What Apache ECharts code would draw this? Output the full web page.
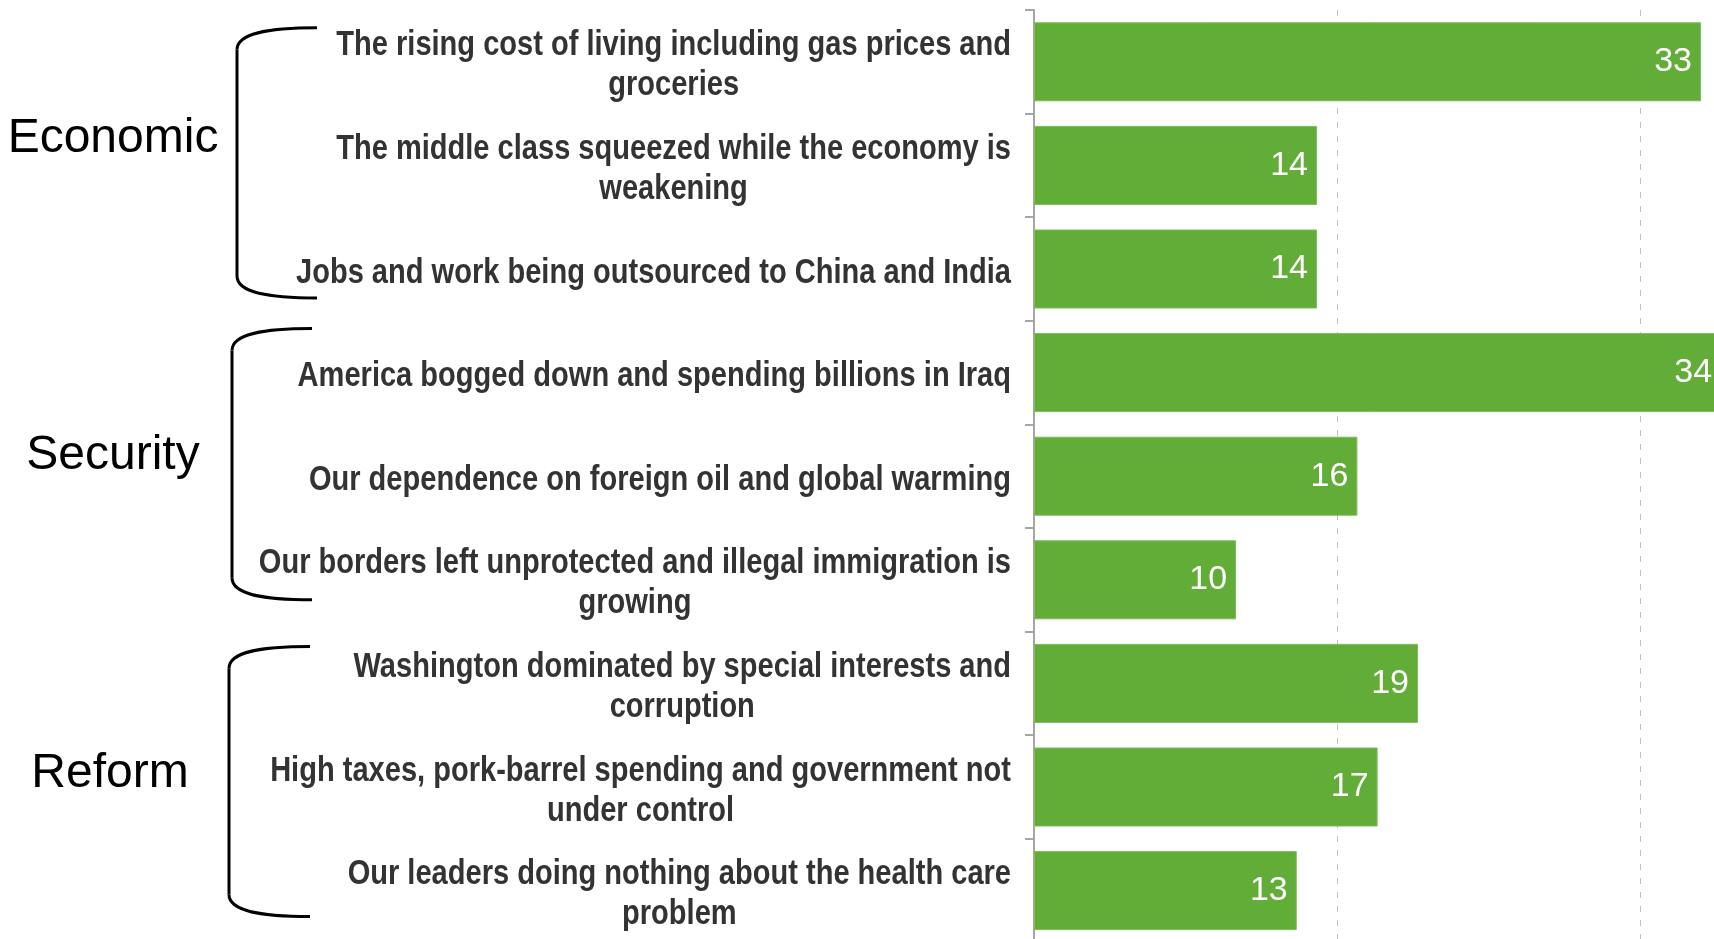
<!DOCTYPE html>
<html>
<head>
<meta charset="utf-8">
<script src="https://cdn.jsdelivr.net/npm/echarts@6/dist/echarts.min.js"></script>
<style>
html,body{margin:0;padding:0;background:#ffffff;}
#chart{width:1714px;height:939px;}
</style>
</head>
<body>
<div id="chart"></div>
<script>
// ---------- data ----------
const categories = [
  'The rising cost of living including gas prices and groceries',
  'The middle class squeezed while the economy is weakening',
  'Jobs and work being outsourced to China and India',
  'America bogged down and spending billions in Iraq',
  'Our dependence on foreign oil and global warming',
  'Our borders left unprotected and illegal immigration is growing',
  'Washington dominated by special interests and corruption',
  'High taxes, pork-barrel spending and government not under control',
  'Our leaders doing nothing about the health care problem'
];
const values = [33, 14, 14, 34, 16, 10, 19, 17, 13];
const groupNames = ['Economic', 'Security', 'Reform'];
const groupFirst = [0, 3, 6];
const groupLast = [2, 5, 8];
const xMin = 0, xMax = 45, xStep = 15;

// ---------- styling / layout ----------
const SANS = '"Liberation Sans", Arial, sans-serif';
const LABEL_SIZE = 35;
const LABEL_SX = 0.83;          // horizontal squeeze to mimic a narrow face
const LABEL_WRAP = 762;
const LABEL_RIGHT = 1011;
const LABEL_LINE_H = 40;
const LABEL_DY = 4;
const measureCtx = document.createElement('canvas').getContext('2d');
measureCtx.font = 'bold ' + LABEL_SIZE + 'px ' + SANS;
function wrapText(t, maxW) {
  const words = t.split(' ');
  const lines = [];
  let cur = '';
  for (const w of words) {
    const test = cur ? cur + ' ' + w : w;
    if (cur && measureCtx.measureText(test).width > maxW) { lines.push(cur); cur = w; }
    else cur = test;
  }
  lines.push(cur);
  return lines;
}
const groupLayout = [
  { labelX: 113, labelDy: -27, top: -34, bottom: 29, vx: 237, ex: 317 },
  { labelX: 113, labelDy: -20, top: -44, bottom: 20, vx: 232, ex: 312 },
  { labelX: 110, labelDy: -13, top: -37, bottom: 26, vx: 229, ex: 310 }
];

const chart = echarts.init(document.getElementById('chart'), null, { renderer: 'canvas' });
chart.setOption({
  animation: false,
  backgroundColor: '#ffffff',
  grid: { left: 1034, top: 10, right: -229.5, bottom: -3.4, containLabel: false, outerBoundsMode: 'none' },
  xAxis: {
    type: 'value', min: xMin, max: xMax, interval: xStep,
    axisLine: { show: false }, axisTick: { show: false }, axisLabel: { show: false },
    splitLine: { show: true, showMinLine: false, lineStyle: { color: '#BFBFBF', width: 1, type: [6, 8] } }
  },
  yAxis: {
    type: 'category', inverse: true, data: categories,
    axisLine: { show: true, lineStyle: { color: '#A6A6A6', width: 2 } },
    axisTick: { show: true, length: 9, lineStyle: { color: '#A6A6A6', width: 2 } },
    axisLabel: { show: false }
  },
  series: [{
    type: 'bar', data: values, barWidth: 79, clip: false,
    itemStyle: { color: '#62AD38', borderColor: '#7DBB5A', borderWidth: 1 },
    label: {
      show: true, position: 'insideRight', distance: 9,
      color: '#ffffff', fontFamily: SANS, fontSize: 34, fontWeight: 'normal'
    }
  }]
});

function catY(i) { return chart.convertToPixel({ yAxisIndex: 0 }, i); }
const graphics = [];

// category labels (drawn at the category axis positions)
categories.forEach(function (c, i) {
  const lines = wrapText(c, LABEL_WRAP / LABEL_SX);
  const blockW = Math.max.apply(null, lines.map(function (l) { return measureCtx.measureText(l).width; })) * LABEL_SX;
  const cx = LABEL_RIGHT - blockW / 2;
  const cy = catY(i) + LABEL_DY;
  const n = lines.length;
  lines.forEach(function (l, k) {
    graphics.push({
      type: 'text', x: cx, y: cy + (k - (n - 1) / 2) * LABEL_LINE_H, scaleX: LABEL_SX,
      style: { text: l, fontFamily: SANS, fontWeight: 'bold', fontSize: LABEL_SIZE, fill: '#333333', align: 'center', verticalAlign: 'middle' }
    });
  });
});

// group labels and brackets
groupNames.forEach(function (name, g) {
  const L = groupLayout[g];
  const first = catY(groupFirst[g]);
  const last = catY(groupLast[g]);
  let sum = 0;
  for (let i = groupFirst[g]; i <= groupLast[g]; i++) sum += catY(i);
  const mid = sum / (groupLast[g] - groupFirst[g] + 1);
  graphics.push({
    type: 'text', x: L.labelX, y: mid + L.labelDy,
    style: { text: name, fontFamily: SANS, fontSize: 48, fill: '#000000', align: 'center', verticalAlign: 'middle' }
  });
  const top = first + L.top, bot = last + L.bottom, vx = L.vx, ex = L.ex;
  const ls = { stroke: '#000000', lineWidth: 3, fill: null };
  graphics.push({ type: 'bezierCurve', shape: { x1: ex, y1: top, cpx1: ex - 48, cpy1: top, cpx2: vx, cpy2: top + 5, x2: vx, y2: top + 22 }, style: ls });
  graphics.push({ type: 'line', shape: { x1: vx, y1: top + 22, x2: vx, y2: bot - 22 }, style: ls });
  graphics.push({ type: 'bezierCurve', shape: { x1: vx, y1: bot - 22, cpx1: vx, cpy1: bot - 5, cpx2: ex - 48, cpy2: bot, x2: ex, y2: bot }, style: ls });
});
chart.setOption({ graphic: graphics });
</script>
</body>
</html>
